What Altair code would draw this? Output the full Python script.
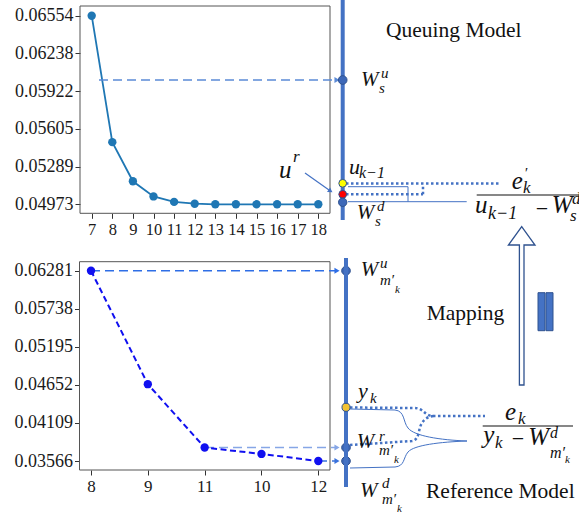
import altair as alt
import pandas as pd

# ---------------- data ----------------
top_k = [7, 8, 9, 10, 11, 12, 13, 14, 15, 16, 17, 18]
top_val = [0.06554, 0.05494, 0.05166, 0.05039, 0.04993, 0.04978,
           0.04973, 0.04973, 0.04973, 0.04973, 0.04973, 0.04973]
top_ticks = [0.04973, 0.05289, 0.05605, 0.05922, 0.06238, 0.06554]

bot_k = ["8", "9", "11", "10", "12"]
bot_val = [0.06281, 0.04662, 0.03758, 0.03667, 0.03566]
bot_ticks = [0.03566, 0.04109, 0.04652, 0.05195, 0.05738, 0.06281]

# reference levels on the model axis (from the bottom series)
w_up = bot_val[0]
w_r = bot_val[2]
w_down = bot_val[4]

SERIF = "Liberation Serif"
BLUE = "#4472c4"
DARK = "#2f528f"

one = pd.DataFrame({"z": [0]})
V = alt.value


def axis(orient, offset, size, pad, values=None, fmt=None):
    kw = dict(orient=orient, offset=offset, domain=False, grid=False, title=None,
              tickSize=5, tickColor="#333", tickWidth=1, labelFont=SERIF,
              labelFontSize=size, labelColor="#1a1a1a", labelPadding=pad,
              labelOverlap=False, labelFlush=False, labelAngle=0)
    if values is not None:
        kw["values"] = values
    if fmt is not None:
        kw["format"] = fmt
    return alt.Axis(**kw)


def rule(x1, y1, x2, y2, color=BLUE, width=1.0, dash=None):
    kw = dict(color=color, strokeWidth=width)
    if dash:
        kw["strokeDash"] = dash
    return alt.Chart(one).mark_rule(**kw).encode(x=V(x1), y=V(y1), x2=V(x2), y2=V(y2))


def txt(s, x, y, size, italic=True, color="#111", align="left"):
    return alt.Chart(one).mark_text(
        text=s, font=SERIF, fontSize=size, fontStyle="italic" if italic else "normal",
        align=align, baseline="alphabetic", color=color).encode(x=V(x), y=V(y))


def dot(x, y, fill, size=75, stroke=DARK):
    return alt.Chart(one).mark_point(shape="circle", filled=True, fill=fill, stroke=stroke,
                                     strokeWidth=1, size=size, opacity=1).encode(x=V(x), y=V(y))


def path(d, stroke=BLUE, width=1.0, dash=None, fill=None):
    kw = dict(shape=d, size=4, stroke=stroke, strokeWidth=width, opacity=1,
              filled=fill is not None)
    if fill is not None:
        kw["fill"] = fill
    if dash:
        kw["strokeDash"] = dash
    return alt.Chart(one).mark_point(**kw).encode(x=V(0), y=V(0))


def head(x, y, color, size=35, angle=0):
    kw = dict(shape="triangle-right", filled=True, color=color, size=size, opacity=1)
    if angle:
        kw["angle"] = angle
    return alt.Chart(one).mark_point(**kw).encode(x=V(x), y=V(y))


# ---------------- top (queuing model) plot ----------------
top_df = pd.DataFrame({"k": top_k, "v": top_val})
tx = alt.X("k:Q", scale=alt.Scale(domain=[7, 18], range=[91.7, 318.3], nice=False, zero=False),
           axis=axis("bottom", 213.3 - 517, 16.5, 3, values=top_k, fmt="d"))
ty = alt.Y("v:Q", scale=alt.Scale(domain=[top_ticks[0], top_ticks[-1]], range=[204.3, 15.7],
                                  nice=False, zero=False),
           axis=axis("left", -80, 18, 2, values=top_ticks, fmt=".5f"))
top_base = alt.Chart(top_df).encode(x=tx, y=ty)
top_layer = alt.layer(
    top_base.mark_line(color="#1f77b4", strokeWidth=1.8),
    top_base.mark_point(filled=True, color="#1f77b4", size=70, opacity=1),
)

# ---------------- bottom (reference model) plot ----------------
bot_df = pd.DataFrame({"k": bot_k, "v": bot_val})
bx = alt.X("k:O", scale=alt.Scale(type="point", domain=bot_k, range=[91, 318.3], padding=0),
           axis=axis("bottom", 470 - 517, 17, 3))
by = alt.Y("v:Q", scale=alt.Scale(domain=[bot_ticks[0], bot_ticks[-1]], range=[461, 270.7],
                                  nice=False, zero=False),
           axis=axis("left", -79.5, 18, 2, values=bot_ticks, fmt=".5f"))
bot_base = alt.Chart(bot_df).encode(x=bx, y=by)


def level_arrow(v, x_start, color):
    r = alt.Chart(one).mark_rule(color=color, strokeWidth=1.4, strokeDash=[9, 5]).encode(
        x=V(x_start), x2=V(336), y=alt.datum(v))
    h = alt.Chart(one).mark_point(shape="triangle-right", filled=True, color=color, size=35,
                                  opacity=1).encode(x=V(337), y=alt.datum(v))
    d = alt.Chart(one).mark_point(shape="circle", filled=True, fill="#3d68b8", stroke=DARK,
                                  strokeWidth=1, size=75, opacity=1).encode(x=V(346), y=alt.datum(v))
    return [r, h, d]


bot_layer = alt.layer(
    *level_arrow(w_up, 91, "#2e6ee6"),
    *level_arrow(w_r, 205, "#86a6e6"),
    *level_arrow(w_down, 318, "#3a72dc"),
    bot_base.mark_line(color="#1010f0", strokeWidth=2, strokeDash=[6, 3.5]),
    bot_base.mark_point(filled=True, color="#1010f0", size=70, opacity=1),
)

# ---------------- decorations ----------------
frames = [
    alt.Chart(one).mark_rect(fillOpacity=0, stroke="#555", strokeWidth=1).encode(
        x=V(80), x2=V(330), y=V(6), y2=V(213.3)),
    alt.Chart(one).mark_rect(fillOpacity=0, stroke="#555", strokeWidth=1).encode(
        x=V(79.5), x2=V(330), y=V(261.7), y2=V(470)),
]

deco = [
    # model axes
    rule(342.7, 0, 342.7, 220, BLUE, 4),
    rule(346, 258, 346, 487, BLUE, 4),
    # top dashed arrow to W_s^u
    rule(99, 80, 336, 80, "#5b8ad6", 1.5, [9, 5]),
    head(337, 80, "#5b8ad6"),
    # top brackets (dotted + thin)
    rule(346, 183.5, 500, 183.5, BLUE, 2.5, [2.5, 2.5]),
    rule(346, 194.3, 423, 194.3, BLUE, 2.5, [2.5, 2.5]),
    rule(423, 194.3, 423, 184.5, BLUE, 2.5, [2.5, 2.5]),
    rule(348, 186.7, 408, 186.7, BLUE, 1),
    rule(408, 186.7, 408, 201.7, BLUE, 1),
    rule(348, 201.7, 466.7, 201.7, BLUE, 1),
    # u^r arrow
    rule(305, 173, 329, 190, BLUE, 1.2),
    head(330.5, 191, BLUE, 30, 35),
    # bottom braces
    path("M350,407.5 L414,408 C424,408 424,416 434,416 L485,416", BLUE, 2.5, [2.5, 2.5]),
    path("M350,445 L412,441 C420,440 418,428 422,423 C425,418 430,416 434,416", BLUE, 2.5, [2.5, 2.5]),
    path("M350,409 L395,410 C405,411 403,422 408,428 C414,436 440,440 467,441", BLUE, 1),
    path("M350,468 L395,467 C405,466 403,458 408,452 C414,445 440,442 467,441", BLUE, 1),
    # dots on the model axes
    dot(342.7, 80, "#3d68b8"),
    dot(342.7, 183.3, "#ffff00", 60),
    dot(342.7, 194.3, "#ff0000", 60),
    dot(342.7, 202.3, "#3d68b8", 70),
    dot(346, 407.3, "#f2c232", 65),
    # hollow mapping arrow
    path("M521.7,226.7 L535,245 L524,245 L524,385 L519.4,385 L519.4,245 L508.4,245 Z",
         DARK, 1.3, fill="white"),
    # equal sign bars
    alt.Chart(one).mark_rect(fill=BLUE, stroke=DARK, strokeWidth=1).encode(
        x=V(538), x2=V(545), y=V(292.7), y2=V(330.7)),
    alt.Chart(one).mark_rect(fill=BLUE, stroke=DARK, strokeWidth=1).encode(
        x=V(546), x2=V(553), y=V(292.7), y2=V(330.7)),
    # fraction bars
    rule(476.7, 195, 579, 195, "#111", 1.2),
    rule(482.7, 426, 573, 426, "#111", 1.2),
    # plain texts
    txt("Queuing Model", 386, 37, 21.5, italic=False),
    txt("Mapping", 426.7, 320, 21.5, italic=False),
    txt("Reference Model", 426, 498, 21.5, italic=False),
    # W_s^u
    txt("W", 361, 86, 21), txt("u", 381, 78, 15), txt("s", 379, 93, 15),
    # u_{k-1}
    txt("u", 349, 174, 22), txt("k−1", 359, 178, 16),
    # W_s^d
    txt("W", 356.7, 219, 21), txt("d", 377, 211, 15), txt("s", 375, 226, 15),
    # u^r
    txt("u", 279, 178, 25), txt("r", 293, 162, 17),
    # e'_k / (u_{k-1} - W_s^d)
    txt("e", 511.7, 188.5, 25), txt("′", 524, 178, 15), txt("k", 523, 193, 17),
    txt("u", 475, 213, 25), txt("k−1", 488, 219, 18),
    txt("−", 542, 216, 22, italic=False, align="center"),
    txt("W", 551.7, 213, 25), txt("d", 572, 204, 17), txt("s", 570, 221, 17),
    # W^u_{m'_k}
    txt("W", 360.7, 276, 21), txt("u", 380, 268, 15), txt("m′", 380, 285, 15), txt("k", 395, 293, 11),
    # y_k
    txt("y", 358, 398, 22), txt("k", 370, 403, 15),
    # W^r_{m'_k}
    txt("W", 356.7, 448, 21), txt("r", 379, 441, 15), txt("m′", 379, 455, 15), txt("k", 394, 463, 11),
    # W^d_{m'_k}
    txt("W", 360, 497, 21), txt("d", 382, 488, 15), txt("m′", 382, 504, 15), txt("k", 397, 512, 11),
    # e_k / (y_k - W^d_{m'_k})
    txt("e", 505, 420, 25), txt("k", 518, 424, 17),
    txt("y", 483.3, 443, 25), txt("k", 495, 448, 17),
    txt("−", 518, 446, 22, italic=False, align="center"),
    txt("W", 528.3, 445, 25), txt("d", 550, 438, 16), txt("m′", 550, 458, 16), txt("k", 565, 463, 11),
]

chart = alt.layer(
    *frames, top_layer, bot_layer, *deco
).resolve_scale(
    x="independent", y="independent"
).properties(
    width=579, height=517, padding=0, autosize=alt.AutoSizeParams(type="none"),
    background="white"
).configure_view(strokeWidth=0).configure_axis(labelFont=SERIF, labelColor="#1a1a1a")

chart.save("out.html", embed_options={"renderer": "svg", "actions": False})
